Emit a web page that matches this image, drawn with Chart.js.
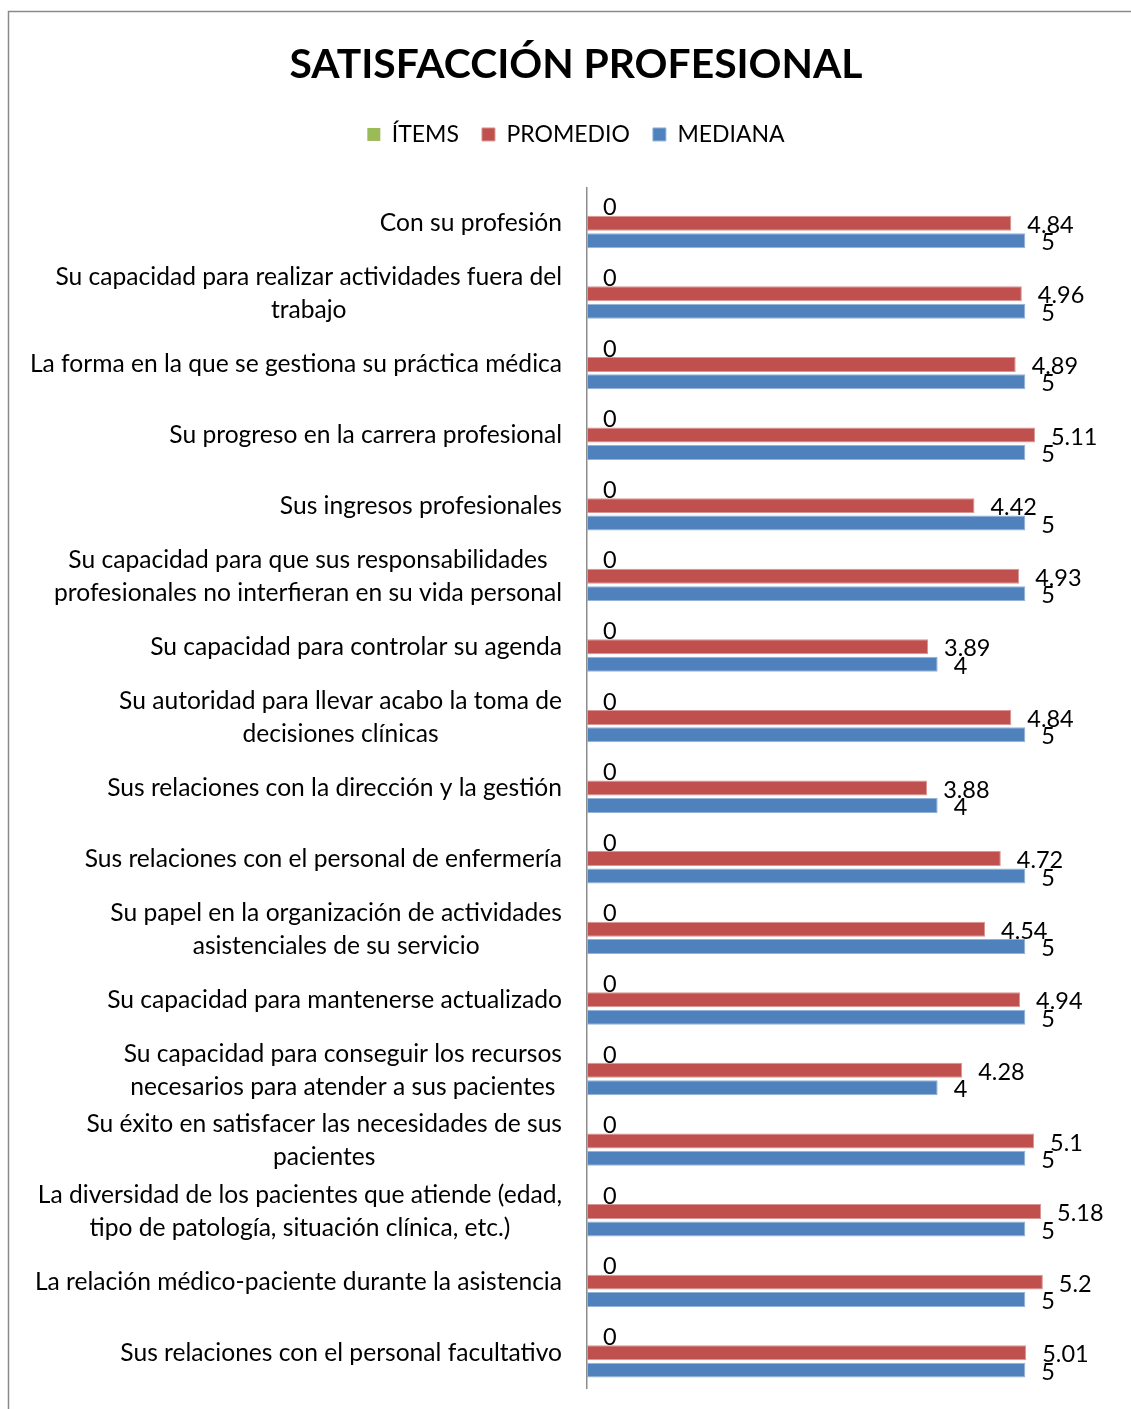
<!DOCTYPE html>
<html>
<head>
<meta charset="utf-8">
<script src="https://cdn.jsdelivr.net/npm/chart.js@4"></script>
<style>
body { margin: 0; background: #fff; overflow: hidden; }
</style>
</head>
<body>
<canvas id="satisfaccion" width="1131" height="1409"></canvas>
<script>
// categorias (con saltos de linea como en el eje)
const preguntas = [
  "Con su profesión",
  ["Su capacidad para realizar actividades fuera del", "trabajo"],
  "La forma en la que se gestiona su práctica médica",
  "Su progreso en la carrera profesional",
  "Sus ingresos profesionales",
  ["Su capacidad para que sus responsabilidades", "profesionales no interfieran en su vida personal"],
  "Su capacidad para controlar su agenda",
  ["Su autoridad para llevar acabo la toma de", "decisiones clínicas"],
  "Sus relaciones con la dirección y la gestión",
  "Sus relaciones con el personal de enfermería",
  ["Su papel en la organización de actividades", "asistenciales de su servicio"],
  "Su capacidad para mantenerse actualizado",
  ["Su capacidad para conseguir los recursos", "necesarios para atender a sus pacientes"],
  ["Su éxito en satisfacer las necesidades de sus", "pacientes"],
  ["La diversidad de los pacientes que atiende (edad,", "tipo de patología, situación clínica, etc.)"],
  "La relación médico-paciente durante la asistencia",
  "Sus relaciones con el personal facultativo"
];

const items = [0, 0, 0, 0, 0, 0, 0, 0, 0, 0, 0, 0, 0, 0, 0, 0, 0];
const promedio = [4.84, 4.96, 4.89, 5.11, 4.42, 4.93, 3.89, 4.84, 3.88, 4.72, 4.54, 4.94, 4.28, 5.1, 5.18, 5.2, 5.01];
const mediana = [5, 5, 5, 5, 5, 5, 4, 5, 4, 5, 5, 5, 4, 5, 5, 5, 5];

const FUENTE = "Lato, 'Open Sans', sans-serif";

// marco gris del grafico
const marco = {
  id: "marco",
  beforeDraw(chart) {
    const ctx = chart.ctx;
    ctx.save();
    ctx.fillStyle = "#fff";
    ctx.fillRect(0, 0, chart.width, chart.height);
    ctx.strokeStyle = "#8a8a8a";
    ctx.lineWidth = 1.5;
    ctx.strokeRect(8.5, 11.5, 1300, 1600);
    ctx.restore();
  }
};

// espacio extra bajo la leyenda
const leyendaAlta = {
  id: "leyendaAlta",
  beforeInit(chart) {
    const fit = chart.legend.fit;
    chart.legend.fit = function () {
      fit.bind(chart.legend)();
      this.height += 32;
    };
  }
};

// etiquetas de categoria, cada bloque centrado y alineado a la derecha
const etiquetasEje = {
  id: "etiquetasEje",
  afterDraw(chart) {
    const ctx = chart.ctx;
    const y = chart.scales.y;
    ctx.save();
    ctx.font = "24.6px " + FUENTE;
    ctx.fillStyle = "#000";
    ctx.textAlign = "center";
    ctx.textBaseline = "middle";
    const derecha = y.right - 25;
    preguntas.forEach((p, i) => {
      const lineas = Array.isArray(p) ? p : [p];
      const ancho = Math.max(...lineas.map(l => ctx.measureText(l).width));
      const cx = derecha - ancho / 2;
      const cy = y.getPixelForValue(i);
      lineas.forEach((l, k) => {
        ctx.fillText(l, cx, cy + (k - (lineas.length - 1) / 2) * 33);
      });
    });
    ctx.restore();
  }
};

// valores al final de cada barra
const valores = {
  id: "valores",
  afterDatasetsDraw(chart) {
    const ctx = chart.ctx;
    ctx.save();
    ctx.font = "23.5px " + FUENTE;
    ctx.fillStyle = "#000";
    ctx.textAlign = "left";
    ctx.textBaseline = "middle";
    chart.data.datasets.forEach((ds, i) => {
      chart.getDatasetMeta(i).data.forEach((barra, j) => {
        ctx.fillText(String(ds.data[j]), barra.x + 16, barra.y + 2);
      });
    });
    ctx.restore();
  }
};

new Chart(document.getElementById("satisfaccion"), {
  type: "bar",
  data: {
    labels: preguntas,
    datasets: [
      { label: "ÍTEMS", data: items, backgroundColor: "#9BBB59", borderColor: "#b9d08a", borderWidth: 0 },
      { label: "PROMEDIO", data: promedio, backgroundColor: "#C0504D", borderColor: "#d99694", borderWidth: 1 },
      { label: "MEDIANA", data: mediana, backgroundColor: "#4F81BD", borderColor: "#95b3d7", borderWidth: 1 }
    ]
  },
  options: {
    indexAxis: "y",
    responsive: false,
    animation: false,
    devicePixelRatio: 1,
    layout: { padding: { left: 39, right: 18, top: 0, bottom: 21 } },
    datasets: {
      bar: { categoryPercentage: 0.74, barPercentage: 0.86, borderSkipped: false }
    },
    scales: {
      x: { min: 0, max: 6, display: false },
      y: {
        grid: { display: false, drawTicks: false },
        ticks: { display: false },
        border: { display: true, color: "#8c8c8c", width: 1.5 },
        afterFit(scale) { scale.width = 548; }
      }
    },
    plugins: {
      tooltip: { enabled: false },
      title: {
        display: true,
        text: "SATISFACCIÓN PROFESIONAL",
        color: "#000",
        font: { family: FUENTE, size: 40.8, weight: "bold" },
        padding: { top: 40, bottom: 11 }
      },
      legend: {
        position: "top",
        labels: {
          color: "#000",
          font: { family: FUENTE, size: 23 },
          boxWidth: 13,
          boxHeight: 13,
          padding: 23
        }
      }
    }
  },
  plugins: [marco, leyendaAlta, etiquetasEje, valores]
});
</script>
</body>
</html>
